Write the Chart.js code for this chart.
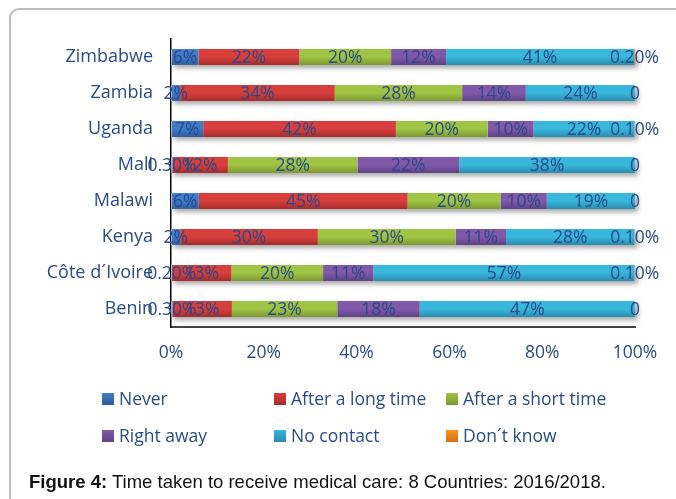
<!DOCTYPE html>
<html>
<head>
<meta charset="utf-8">
<script src="https://cdn.jsdelivr.net/npm/chart.js@4/dist/chart.umd.min.js"></script>
<style>
  html, body { margin: 0; padding: 0; background: #fff; }
  #wrap { position: relative; width: 676px; height: 499px; overflow: hidden; background: #fff; }
  #frame { position: absolute; left: 9px; top: 8px; width: 720px; height: 560px; border: 2px solid #bdbdbd; border-radius: 10px; box-sizing: border-box; }
  #c { position: absolute; left: 0; top: 0; }
  #caption { position: absolute; left: 29px; top: 472px; line-height: 20px; font-family: "Liberation Sans", Arial, sans-serif; font-size: 18.5px; color: #111; white-space: nowrap; }
</style>
</head>
<body>
<div id="wrap">
  <div id="frame"></div>
  <canvas id="c" width="676" height="499"></canvas>
  <div id="caption"><b>Figure 4:</b> Time taken to receive medical care: 8 Countries: 2016/2018.</div>
</div>
<script>
const countries = ['Zimbabwe', 'Zambia', 'Uganda', 'Mali', 'Malawi', 'Kenya', 'Côte d´Ivoire', 'Benin'];
const seriesNames = ['Never', 'After a long time', 'After a short time', 'Right away', 'No contact', 'Don´t know'];
const never      = [6, 2, 7, 0.3, 6, 2, 0.2, 0.3];
const longTime   = [22, 34, 42, 12, 45, 30, 13, 13];
const shortTime  = [20, 28, 20, 28, 20, 30, 20, 23];
const rightAway  = [12, 14, 10, 22, 10, 11, 11, 18];
const noContact  = [41, 24, 22, 38, 19, 28, 57, 47];
const dontKnow   = [0.2, 0, 0.1, 0, 0, 0.1, 0.1, 0];
const xTicks = [0, 20, 40, 60, 80, 100];

const colorsTop = ['#3f7cc8', '#d63f3b', '#a0c444', '#8059a9', '#38b6dc', '#fa9326'];
const colorsBot = ['#2d5c9c', '#a52e2b', '#7d9a32', '#5f4287', '#2a8cad', '#d06f14'];
const textColor = '#2a4a8a';

const raw = [never, longTime, shortTime, rightAway, noContact, dontKnow];
const totals = countries.map((_, i) => raw.reduce((s, a) => s + a[i], 0));

function gradFor(k) {
  return function (ctx) {
    const c = ctx.chart;
    if (!c.chartArea || !c.scales.y) return colorsTop[k];
    const y = c.scales.y.getPixelForValue(ctx.dataIndex);
    const g = c.ctx.createLinearGradient(0, y - 8, 0, y + 8);
    g.addColorStop(0, colorsTop[k]);
    g.addColorStop(0.5, colorsTop[k]);
    g.addColorStop(1, colorsBot[k]);
    return g;
  };
}

const datasets = raw.map((arr, k) => ({
  label: seriesNames[k],
  raw: arr,
  data: arr.map((v, i) => v / totals[i] * 100),
  backgroundColor: gradFor(k),
  borderWidth: 0,
  barPercentage: 0.9,
  categoryPercentage: 0.49
}));

function fmt(v) {
  if (v === 0) return '0';
  if (v < 1) return v.toFixed(2) + '%';
  return Math.round(v) + '%';
}

const shadowPlugin = {
  id: 'rowShadow',
  beforeDatasetsDraw(chart) {
    const ctx = chart.ctx;
    const meta0 = chart.getDatasetMeta(0);
    const xs = chart.scales.x;
    ctx.save();
    ctx.shadowColor = 'rgba(0,0,0,0.35)';
    ctx.shadowBlur = 5;
    ctx.shadowOffsetX = 3;
    ctx.shadowOffsetY = 3;
    ctx.fillStyle = '#ffffff';
    meta0.data.forEach(el => {
      const h = el.height;
      const x0 = xs.getPixelForValue(0);
      const x1 = xs.getPixelForValue(100);
      ctx.fillRect(x0, el.y - h / 2, x1 - x0, h);
    });
    ctx.restore();
  }
};

const labelPlugin = {
  id: 'segLabels',
  afterDatasetsDraw(chart) {
    const ctx = chart.ctx;
    ctx.save();
    ctx.font = '17.5px "Open Sans", sans-serif';
    ctx.fillStyle = textColor;
    ctx.textAlign = 'center';
    ctx.textBaseline = 'middle';
    chart.data.datasets.forEach((ds, k) => {
      const meta = chart.getDatasetMeta(k);
      meta.data.forEach((el, i) => {
        const cx = (el.x + el.base) / 2;
        ctx.fillText(fmt(ds.raw[i]), cx, el.y + 1);
      });
    });
    ctx.restore();
  }
};

const legendPlugin = {
  id: 'gridLegend',
  afterDraw(chart) {
    const ctx = chart.ctx;
    const colX = [102, 274, 446];
    const rowY = [393, 430];
    ctx.save();
    ctx.font = '17.5px "Open Sans", sans-serif';
    ctx.textAlign = 'left';
    ctx.textBaseline = 'middle';
    chart.data.datasets.forEach((ds, k) => {
      const bx = colX[k % 3];
      const by = rowY[Math.floor(k / 3)];
      const g = ctx.createLinearGradient(0, by, 0, by + 12);
      g.addColorStop(0, colorsTop[k]);
      g.addColorStop(1, colorsBot[k]);
      ctx.fillStyle = g;
      ctx.fillRect(bx, by, 12, 12);
      ctx.fillStyle = textColor;
      ctx.fillText(ds.label, bx + 17, by + 7);
    });
    ctx.restore();
  }
};

new Chart(document.getElementById('c'), {
  type: 'bar',
  data: { labels: countries, datasets: datasets },
  plugins: [shadowPlugin, labelPlugin, legendPlugin],
  options: {
    indexAxis: 'y',
    responsive: false,
    animation: false,
    devicePixelRatio: 1,
    layout: { padding: { left: 0, top: 39, right: 41, bottom: 132 } },
    plugins: { legend: { display: false }, tooltip: { enabled: false } },
    scales: {
      x: {
        stacked: true,
        min: 0, max: 100,
        afterBuildTicks(scale) { scale.ticks = xTicks.map(v => ({ value: v })); },
        afterFit(scale) { scale.height = 40; },
        ticks: {
          callback: v => v + '%',
          color: textColor,
          font: { family: 'Open Sans', size: 17.5 },
          padding: 16,
          maxRotation: 0
        },
        grid: { display: true, drawOnChartArea: false, drawTicks: false },
        border: { display: true, color: '#444', width: 2 }
      },
      y: {
        stacked: true,
        afterFit(scale) { scale.width = 171; },
        ticks: {
          color: textColor,
          font: { family: 'Open Sans', size: 18 },
          padding: 18
        },
        grid: { display: true, drawOnChartArea: false, drawTicks: false },
        border: { display: true, color: '#000', width: 1.5 }
      }
    }
  }
});
</script>
</body>
</html>
